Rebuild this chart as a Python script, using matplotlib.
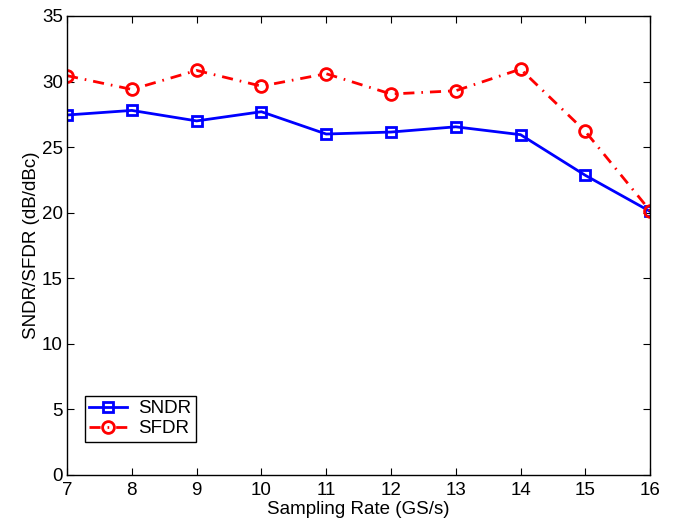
import matplotlib
matplotlib.use("Agg")
import matplotlib.pyplot as plt

rate = [7, 8, 9, 10, 11, 12, 13, 14, 15, 16]
sndr = [27.45, 27.8, 27.0, 27.7, 26.0, 26.15, 26.55, 25.95, 22.85, 20.1]
sfdr = [30.45, 29.4, 30.85, 29.65, 30.6, 29.05, 29.3, 30.95, 26.2, 20.15]

plt.rcParams['font.family'] = ['Liberation Sans', 'DejaVu Sans']
fs = 13.5

fig = plt.figure(figsize=(6.73, 5.21), dpi=100)
ax = fig.add_axes([0.0996, 0.0883, 0.8664, 0.8810])

ax.plot(rate, sndr, color='#0000ff', linestyle='-', linewidth=2,
        marker='s', markersize=7, markerfacecolor='none',
        markeredgewidth=2, label='SNDR')
ax.plot(rate, sfdr, color='#ff0000', linestyle=(0, (4, 2.5, 0.6, 2.5)),
        linewidth=2, marker='o', markersize=8.5, markerfacecolor='none',
        markeredgewidth=2, label='SFDR')

ax.set_xlim(7, 16)
ax.set_ylim(0, 35)
ax.set_xticks(range(7, 17))
ax.set_yticks(range(0, 36, 5))
ax.tick_params(direction='in', top=True, right=True, labelsize=fs, length=5)
ax.tick_params(axis='x', pad=5)
ax.tick_params(axis='y', pad=3)
for s in ax.spines.values():
    s.set_linewidth(1)

ax.set_xlabel('Sampling Rate (GS/s)', fontsize=fs, labelpad=1.5)
ax.set_ylabel('SNDR/SFDR (dB/dBc)', fontsize=fs, labelpad=1)

leg = ax.legend(loc='lower left', bbox_to_anchor=(0.03, 0.072), fontsize=fs,
                fancybox=False, edgecolor='black', framealpha=1,
                handlelength=2.0, handletextpad=0.6, borderpad=0.25,
                labelspacing=0.15, borderaxespad=0)
leg.get_frame().set_linewidth(1)

fig.savefig('out.png', dpi=100)
